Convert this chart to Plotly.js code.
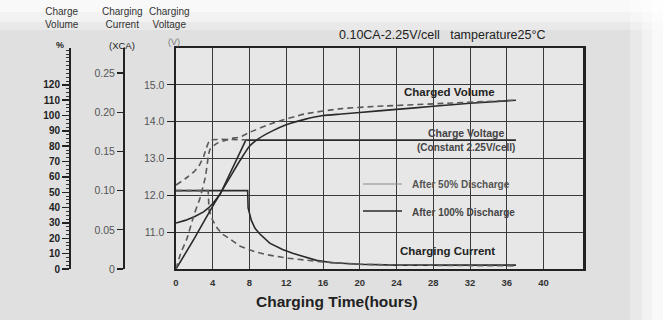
<!DOCTYPE html>
<html>
<head>
<meta charset="utf-8">
<script src="https://cdn.plot.ly/plotly-3.0.1.min.js"></script>
<style>html,body{margin:0;padding:0;background:#e2e2e2;}#chart{width:663px;height:320px;}</style>
</head>
<body>
<div id="chart"></div>
<script>
// ---- data ----
const hourTicks = [0, 4, 8, 12, 16, 20, 24, 28, 32, 36, 40];
const voltTicks = [11, 12, 13, 14, 15];
const currTicks = [0, 0.05, 0.10, 0.15, 0.20, 0.25];
const currTickText = ['0', '0.05', '0.10', '0.15', '0.20', '0.25'];
const volTicks = [0, 10, 20, 30, 40, 50, 60, 70, 80, 90, 100, 110, 120];

// After 100% discharge
const v100T = [0, 1, 2, 3, 3.5, 4, 4.8, 5.5, 6.6, 7.6, 12, 20, 28, 37];
const v100V = [11.25, 11.32, 11.42, 11.55, 11.65, 11.78, 12.03, 12.4, 12.97, 13.5, 13.5, 13.5, 13.5, 13.5];
const c100T = [0, 7.8, 7.85, 8.2, 8.6, 9.1, 10.2, 11.6, 12.7, 15.3, 17, 20, 24, 37];
const c100C = [0.1, 0.1, 0.078, 0.062, 0.052, 0.045, 0.033, 0.025, 0.02, 0.011, 0.008, 0.006, 0.005, 0.005];
const q100T = [0, 2, 4, 6, 7, 8, 9, 10.5, 12, 14, 16, 18, 20, 24, 28, 32, 37];
const q100Q = [0, 20, 41, 61, 71, 80, 85, 90, 94, 97.5, 100, 101, 102, 104, 106, 108, 110];

// After 50% discharge
const v50T = [0, 1, 2, 2.5, 3, 3.4, 3.7, 8];
const v50V = [12.28, 12.45, 12.65, 12.8, 13.05, 13.35, 13.5, 13.5];
const c50T = [0, 3.5, 3.6, 4, 4.5, 5, 5.9, 7, 8.6, 10, 12, 16, 20, 24, 37];
const c50C = [0.1, 0.1, 0.075, 0.062, 0.052, 0.045, 0.038, 0.029, 0.022, 0.018, 0.014, 0.009, 0.006, 0.005, 0.004];
const q50T = [0, 0.5, 1.2, 2, 2.6, 3.2, 3.7, 4.5, 6, 7, 8, 10.5, 14, 18, 22, 29.5, 37];
const q50Q = [0, 10, 20, 36, 46, 60, 78, 82, 85, 86, 89, 95, 101, 104.5, 106, 108, 110];

// ---- styles ----
const solid = {color: '#2a2a2a', width: 1.6};
const dashed = {color: '#5a5a5a', width: 1.6, dash: '6px,4px'};
const FONT = 'Liberation Sans, Arial, sans-serif';

const traces = [
  {x: v100T, y: v100V, yaxis: 'y', mode: 'lines', line: solid},
  {x: c100T, y: c100C, yaxis: 'y2', mode: 'lines', line: solid},
  {x: q100T, y: q100Q, yaxis: 'y3', mode: 'lines', line: Object.assign({shape: 'spline', smoothing: 0.6}, solid)},
  {x: v50T, y: v50V, yaxis: 'y', mode: 'lines', line: Object.assign({shape: 'spline', smoothing: 0.4}, dashed)},
  {x: c50T, y: c50C, yaxis: 'y2', mode: 'lines', line: dashed},
  {x: q50T, y: q50Q, yaxis: 'y3', mode: 'lines', line: Object.assign({shape: 'spline', smoothing: 0.5}, dashed)}
];

const W = 663, H = 320;
const px = v => v / W;
const py = v => 1 - v / H;

function ann(text, x, y, size, opts) {
  return Object.assign({text: text, x: px(x), y: py(y), xref: 'paper', yref: 'paper',
    showarrow: false, xanchor: 'center', yanchor: 'middle',
    font: {family: FONT, size: size, color: '#222'}}, opts || {});
}

const white = (x0, x1, y0, y1, op) => ({type: 'rect', xref: 'paper', yref: 'paper', x0: x0, x1: x1, y0: y0, y1: y1,
  fillcolor: '#ffffff', line: {width: 0}, layer: 'below', opacity: op});

const layout = {
  width: W, height: H,
  margin: {l: 0, r: 0, t: 0, b: 0},
  paper_bgcolor: '#e0e0e0',
  plot_bgcolor: '#e7e7e7',
  showlegend: false,
  font: {family: FONT, color: '#222'},
  xaxis: {
    domain: [px(176), px(583)], range: [0, 44.3],
    tickvals: hourTicks, ticks: '', showgrid: true, gridcolor: '#3a3a3a', gridwidth: 1,
    showline: true, mirror: true, linecolor: '#222', linewidth: 2, zeroline: false,
    ticklabelstandoff: 4,
    tickfont: {size: 9.5, color: '#333', family: FONT, weight: 'bold'}
  },
  yaxis: {
    domain: [py(269), py(48)], range: [10, 16],
    tickvals: voltTicks, tickformat: '.1f', ticks: 'outside', ticklen: 7, tickcolor: '#222', tickwidth: 1.2,
    showgrid: true, gridcolor: '#3a3a3a', gridwidth: 1,
    showline: true, mirror: true, linecolor: '#222', linewidth: 2.5, zeroline: false,
    tickfont: {size: 10.5, color: '#555', family: FONT}
  },
  yaxis2: {
    overlaying: 'y', anchor: 'free', position: px(123), side: 'left', range: [0, 0.282],
    tickvals: currTicks, ticktext: currTickText, ticks: 'outside', ticklen: 6, tickcolor: '#222', tickwidth: 1.2,
    showgrid: false, zeroline: false, showline: true, linecolor: '#222', linewidth: 1.6,
    tickfont: {size: 10.5, color: '#555', family: FONT}
  },
  yaxis3: {
    overlaying: 'y', anchor: 'free', position: px(70), side: 'left', range: [0, 144],
    tickvals: volTicks, ticks: 'outside', ticklen: 7, tickcolor: '#222', tickwidth: 1.5,
    minor: {dtick: 2.5, ticks: 'outside', ticklen: 3, tickcolor: '#333', tickwidth: 1},
    showgrid: false, zeroline: false, showline: true, linecolor: '#222', linewidth: 2,
    tickfont: {size: 10, color: '#222', family: FONT, weight: 'bold'}
  },
  shapes: [
    white(0, 1, py(30), 1, 0.3),
    white(0, 1, py(22), 1, 0.4),
    white(0, 1, py(12), 1, 0.5),
    white(px(630), 1, 0, 1, 0.3),
    white(px(642), 1, 0, 1, 0.4),
    white(px(652), 1, 0, 1, 0.5),
    // legend keys
    {type: 'line', xref: 'paper', yref: 'paper', x0: px(363), x1: px(402), y0: py(184), y1: py(184), line: {color: '#8a8a8a', width: 1}},
    {type: 'line', xref: 'paper', yref: 'paper', x0: px(363), x1: px(402), y0: py(211), y1: py(211), line: {color: '#2a2a2a', width: 1.6}}
  ],
  annotations: [
    ann('Charge<br>Volume', 62, 18, 10, {font: {family: FONT, size: 10, color: '#333'}}),
    ann('Charging<br>Current', 122, 18, 10, {font: {family: FONT, size: 10, color: '#333'}}),
    ann('Charging<br>Voltage', 170, 18, 10, {font: {family: FONT, size: 10, color: '#333'}}),
    ann('<b>%</b>', 60, 45, 9),
    ann('(XCA)', 122, 45, 9.5),
    ann('(V)', 174, 42, 9, {font: {family: FONT, size: 9, color: '#777'}}),
    ann('0.10CA-2.25V/cell&nbsp;&nbsp;&nbsp;tamperature25°C', 442, 35, 12.5),
    ann('<b>Charged Volume</b>', 449, 92, 11.5),
    ann('<b>Charge Voltage</b>', 466, 133, 10.5, {font: {family: FONT, size: 10.5, color: '#444'}}),
    ann('<b>(Constant 2.25V/cell)</b>', 466, 147, 10, {font: {family: FONT, size: 10, color: '#444'}}),
    ann('<b>After 50% Discharge</b>', 410, 184, 10, {xanchor: 'left', font: {family: FONT, size: 10, color: '#555'}}),
    ann('<b>After</b> <b>100%</b> <b>Discharge</b>', 410, 212, 10, {xanchor: 'left', font: {family: FONT, size: 10, color: '#444'}}),
    ann('<b>Charging Current</b>', 447, 251, 11.5),
    ann('<b>Charging Time(hours)</b>', 337, 301, 15.5)
  ]
};

Plotly.newPlot('chart', traces, layout, {staticPlot: true, displayModeBar: false});
</script>
</body>
</html>
